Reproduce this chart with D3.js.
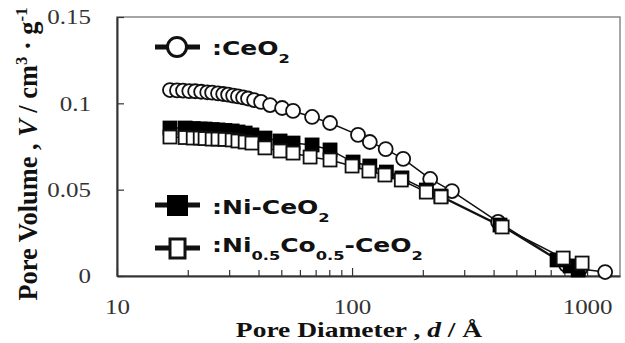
<!DOCTYPE html>
<html lang="en">
<head>
<meta charset="utf-8">
<script src="https://d3js.org/d3.v7.min.js"></script>
<style>
  body { margin: 0; background: #fff; }
  .tick text { font: 20px "Liberation Serif", "Times New Roman", serif; fill: #333; }
  .ttl { font: bold 22px "Liberation Serif", "Times New Roman", serif; fill: #111; }
  .leg { font: bold 20px "DejaVu Sans", sans-serif; fill: #111; }
</style>
</head>
<body>
<svg width="625" height="343"></svg>
<script>
// pore size distribution (d in angstrom, V in cm3/g)
var ceD = [16.8, 18.0, 19.1, 20.3, 21.5, 22.8, 24.2, 25.4, 26.9, 28.3, 29.7, 31.2, 32.7, 34.4, 36.1, 38.3, 41.0, 44.8, 50.4, 56.1, 67.6, 80.6, 106, 119, 139, 165, 215, 266, 418, 814, 934, 1193];
var ceV = [0.1077, 0.1075, 0.1074, 0.1071, 0.1070, 0.1067, 0.1064, 0.1062, 0.1058, 0.1054, 0.1050, 0.1045, 0.1040, 0.1034, 0.1028, 0.1019, 0.1008, 0.0990, 0.0973, 0.0956, 0.0921, 0.0886, 0.0817, 0.0776, 0.0735, 0.0678, 0.0562, 0.0492, 0.0313, 0.0064, 0.0041, 0.0023];

var niD = [16.8, 19.5, 21.1, 22.6, 23.7, 25.4, 26.9, 28.8, 30.9, 32.7, 35.1, 37.5, 42.6, 49.4, 56.1, 67.6, 80.6, 101, 119, 140, 163, 207, 239, 426, 745, 847, 916];
var niV = [0.0857, 0.0857, 0.0854, 0.0851, 0.0851, 0.0848, 0.0846, 0.0843, 0.0840, 0.0834, 0.0828, 0.0817, 0.0799, 0.0782, 0.0770, 0.0759, 0.0730, 0.0660, 0.0637, 0.0602, 0.0568, 0.0498, 0.0463, 0.0295, 0.0093, 0.0058, 0.0035];

var nicoD = [16.8, 19.5, 21.1, 22.6, 23.7, 25.4, 26.9, 28.8, 30.9, 32.7, 35.1, 37.5, 42.6, 49.4, 56.1, 66.3, 80.6, 100, 118, 138, 162, 207, 239, 435, 791, 952];
var nicoV = [0.0805, 0.0802, 0.0799, 0.0799, 0.0796, 0.0793, 0.0793, 0.0791, 0.0788, 0.0782, 0.0776, 0.0770, 0.0742, 0.0724, 0.0712, 0.0689, 0.0672, 0.0637, 0.0608, 0.0585, 0.0556, 0.0486, 0.0458, 0.0284, 0.0104, 0.0075];

var xMajor = [10, 100, 1000];
var xMinor = [20, 30, 40, 50, 60, 70, 80, 90, 200, 300, 400, 500, 600, 700, 800, 900];
var yTicks = [0, 0.05, 0.1, 0.15];

var svg = d3.select("svg");
var pL = 117, pR = 620, pT = 17, pB = 276;
var SX = 1.25; // the original figure is stretched sideways

var x = d3.scaleLog().domain([10, 1380]).range([pL, pR]);
var y = d3.scaleLinear().domain([0, 0.15]).range([pB, pT]);

// frame
svg.append("rect")
  .attr("x", pL).attr("y", pT)
  .attr("width", pR - pL).attr("height", pB - pT)
  .attr("fill", "none").attr("stroke", "#888").attr("stroke-width", 1.5);

// minor x ticks
svg.append("g")
  .attr("transform", "translate(0," + pB + ")")
  .call(d3.axisBottom(x).tickValues(xMinor).tickSize(-6).tickSizeOuter(0).tickFormat(""))
  .call(function(g) { g.select(".domain").remove(); g.selectAll("line").attr("stroke", "#333").attr("stroke-width", 1.2); });

// major x ticks + labels
var gx = svg.append("g")
  .attr("transform", "translate(0," + pB + ")")
  .call(d3.axisBottom(x).tickValues(xMajor).tickSize(-8).tickSizeOuter(0).tickFormat(d3.format("d")));
gx.select(".domain").attr("stroke", "#333").attr("stroke-width", 2);
gx.selectAll("line").attr("stroke", "#333").attr("stroke-width", 1.2);
gx.selectAll("text").attr("y", 38).attr("dy", 0).attr("transform", "scale(" + SX + ",1)");

// y axis
var gy = svg.append("g")
  .attr("transform", "translate(" + pL + ",0)")
  .call(d3.axisLeft(y).tickValues(yTicks).tickSize(-7).tickSizeOuter(0)
    .tickFormat(function(d) { return d === 0 ? "0" : String(d); }));
gy.select(".domain").attr("stroke", "#333").attr("stroke-width", 2);
gy.selectAll("line").attr("stroke", "#333").attr("stroke-width", 1.2);
gy.selectAll("text").attr("x", -26 / SX).attr("dy", "0.34em").attr("transform", "scale(" + SX + ",1)");

// series
var line = d3.line().x(function(d) { return x(d[0]); }).y(function(d) { return y(d[1]); });
function pts(ds, vs) { return ds.map(function(d, i) { return [d, vs[i]]; }); }
var ce = pts(ceD, ceV), ni = pts(niD, niV), nico = pts(nicoD, nicoV);

[ce, ni, nico].forEach(function(s) {
  svg.append("path").datum(s).attr("d", line)
    .attr("fill", "none").attr("stroke", "#111").attr("stroke-width", 1.5);
});

svg.append("g").selectAll("circle").data(ce).join("circle")
  .attr("cx", function(d) { return x(d[0]); }).attr("cy", function(d) { return y(d[1]); })
  .attr("r", 7).attr("fill", "#fff").attr("stroke", "#111").attr("stroke-width", 1.8);

var sq = 13;
svg.append("g").selectAll("rect").data(ni).join("rect")
  .attr("x", function(d) { return x(d[0]) - sq / 2; }).attr("y", function(d) { return y(d[1]) - sq / 2; })
  .attr("width", sq).attr("height", sq).attr("fill", "#000").attr("stroke", "#000").attr("stroke-width", 1.8);

svg.append("g").selectAll("rect").data(nico).join("rect")
  .attr("x", function(d) { return x(d[0]) - sq / 2; }).attr("y", function(d) { return y(d[1]) - sq / 2; })
  .attr("width", sq).attr("height", sq).attr("fill", "#fff").attr("stroke", "#111").attr("stroke-width", 1.8);

// legend
function legText(px, py, parts) {
  var t = svg.append("text").attr("class", "leg")
    .attr("transform", "translate(" + px + "," + py + ") scale(" + SX + ",1)");
  parts.forEach(function(p) {
    var sub = p[1];
    t.append("tspan").text(p[0])
      .attr("font-size", sub === 1 ? 13 : 20)
      .attr("dy", sub === 1 ? 8 : (sub === -1 ? -8 : 0));
  });
}
function legLine(cy) {
  svg.append("line").attr("x1", 155).attr("x2", 200).attr("y1", cy).attr("y2", cy)
    .attr("stroke", "#111").attr("stroke-width", 5);
}

legLine(47);
svg.append("circle").attr("cx", 177).attr("cy", 47).attr("r", 9.5)
  .attr("fill", "#fff").attr("stroke", "#111").attr("stroke-width", 3);
legText(212, 55, [[":CeO", 0], ["2", 1]]);

legLine(205);
svg.append("rect").attr("x", 167).attr("y", 195).attr("width", 21).attr("height", 21)
  .attr("fill", "#000");
legText(212, 214, [[":Ni-CeO", 0], ["2", 1]]);

legLine(248);
svg.append("rect").attr("x", 170).attr("y", 239).attr("width", 15).attr("height", 19)
  .attr("fill", "#fff").attr("stroke", "#111").attr("stroke-width", 3);
legText(212, 252, [[":Ni", 0], ["0.5", 1], ["Co", -1], ["0.5", 1], ["-CeO", -1], ["2", 1]]);

// axis titles
var xt = svg.append("text").attr("class", "ttl").attr("text-anchor", "middle")
  .attr("transform", "translate(359,337) scale(" + SX + ",1)");
xt.append("tspan").text("Pore Diameter , ");
xt.append("tspan").text("d").attr("font-style", "italic");
xt.append("tspan").text(" /  Å");

var yt = svg.append("text").attr("class", "ttl").attr("text-anchor", "middle")
  .attr("transform", "translate(37,154) scale(" + SX + ",1.2) rotate(-90)");
yt.append("tspan").text("Pore Volume , ");
yt.append("tspan").text("V").attr("font-style", "italic");
yt.append("tspan").text(" / cm");
yt.append("tspan").text("3").attr("font-size", 14).attr("dy", -8);
yt.append("tspan").text(" · g").attr("dy", 8);
yt.append("tspan").text("-1").attr("font-size", 14).attr("dy", -8);
</script>
</body>
</html>
